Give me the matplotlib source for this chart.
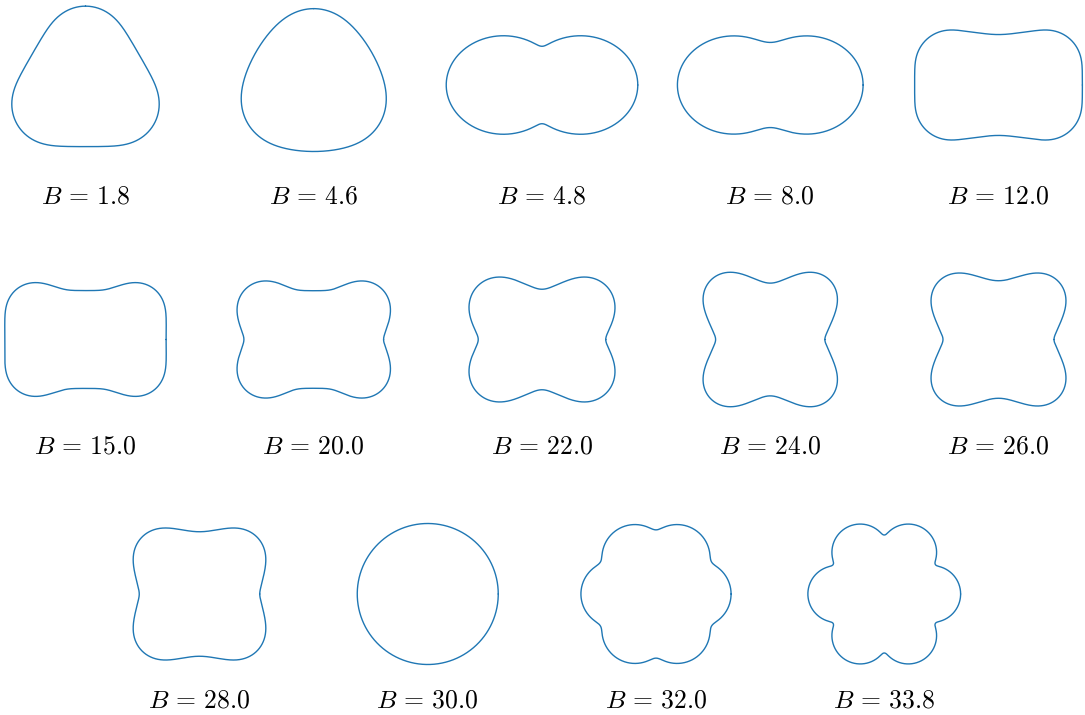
import numpy as np
import matplotlib.pyplot as plt

plt.rcParams['mathtext.fontset'] = 'cm'

# one closed ring per B value, described by its curvature:
# rotational symmetry, ring size (perimeter / 2pi), direction of the first lobe,
# and the bends along the arc (position, turn, half width, softness), all in degrees
B_values = [1.8, 4.6, 4.8, 8.0, 12.0, 15.0, 20.0, 22.0, 24.0, 26.0, 28.0, 30.0, 32.0, 33.8]
symmetry = [3, 3, 2, 2, 2, 2, 2, 2, 2, 2, 2, 1, 6, 6]
ring_radius = [72.4, 72.0, 79.0, 76.5, 78.5, 79.6, 79.9, 80.3, 80.8, 79.7, 76.4, 70.5, 74.8, 80.2]
lobe_dir = [90, 90, 0, 0, 0, 0, 0, 0, 0, 0, 0, 0, 0, 0]
bends = [
    [(0, 120, 33, 12)],
    [(0, 62.4, 28, 15)],
    [(0, 36, 20, 20), (90, -70, 1.5, 2.5)],
    [(0, 36, 25, 20), (90, -65, 4, 7)],
    [(36.4, 98, 21.8, 6), (90, -16, 6, 8)],
    [(0, -2, 2, 4), (40, 112, 20, 8), (76, -20, 3, 5)],
    [(0, -45, 1, 3), (39.3, 140.6, 24, 10), (77, -28, 3, 5)],
    [(0, -55, 1, 3), (40.6, 142.5, 26, 10), (90, -50, 2, 5)],
    [(0, -50, 1, 2.5), (45.2, 140, 22, 10), (90, -50, 2, 6)],
    [(0, -50, 1, 2.5), (44.2, 135, 22, 10), (90, -40, 4, 8)],
    [(0, -30, 1, 3), (44.5, 117.5, 22, 10), (90, -25, 4, 9)],
    [],
    [(30, -76, 1, 3)],
    [(30, -110, 0.5, 1.5)],
]


def ring_shape(n, R, phi, bend_list, N=3600):
    t = np.linspace(0, 2 * np.pi, N + 1)
    kappa = np.zeros_like(t)
    total = 0.0
    P = 360.0 / n
    for t0, turn, w, e in bend_list:
        spots = sorted({round((s * t0 + k * P) % 360, 6) for s in (1, -1) for k in range(n)})
        for sp in spots:
            d = (t - np.radians(sp) + np.pi) % (2 * np.pi) - np.pi
            wr, er = np.radians(w), np.radians(e)
            box = 0.5 * (np.tanh((d + wr) / er) - np.tanh((d - wr) / er))
            kappa += np.radians(turn) / (2 * wr) * box
            total += np.radians(turn)
    # the rest of the 360 degrees is spread evenly
    kappa += 1 - total / (2 * np.pi)
    dt = t[1] - t[0]
    theta = np.radians(phi) + np.pi / 2 + np.concatenate([[0], np.cumsum((kappa[:-1] + kappa[1:]) / 2) * dt])
    tm = (theta[:-1] + theta[1:]) / 2
    x = R * np.concatenate([[0], np.cumsum(np.cos(tm)) * dt])
    y = R * np.concatenate([[0], np.cumsum(np.sin(tm)) * dt])
    # close the ring exactly
    x -= (x[-1] - x[0]) * t / (2 * np.pi)
    y -= (y[-1] - y[0]) * t / (2 * np.pi)
    x -= x[:-1].mean()
    y -= y[:-1].mean()
    return x, y


W, H = 1085, 715
fig = plt.figure(figsize=(W / 100, H / 100), dpi=100)

# panel layout in pixels
col_x = [85.5 + 228.25 * i for i in range(5)]
row_y = [85, 339.5, 594]
base_y = [203, 454, 707]
centers = [(col_x[i], 0) for i in range(5)] + [(col_x[i], 1) for i in range(5)] + \
          [(199.5 + 228.25 * i, 2) for i in range(4)]

pw, ph = 228, 250
for i, b in enumerate(B_values):
    cx, r = centers[i]
    cy = row_y[r]
    ax = fig.add_axes([(cx - pw / 2) / W, (H - cy - ph / 2) / H, pw / W, ph / H])
    ax.set_xlim(-pw / 2, pw / 2)
    ax.set_ylim(-ph / 2, ph / 2)
    ax.axis('off')
    x, y = ring_shape(symmetry[i], ring_radius[i], lobe_dir[i], bends[i])
    ax.plot(x, y, color='#1f77b4', lw=1.0, clip_on=False,
            solid_joinstyle='round', solid_capstyle='round')
    ax.text(0, cy - base_y[r], rf'$B\,=\,{b:.1f}$', ha='center', va='baseline', fontsize=18.5)

fig.savefig('out.png', dpi=100)
